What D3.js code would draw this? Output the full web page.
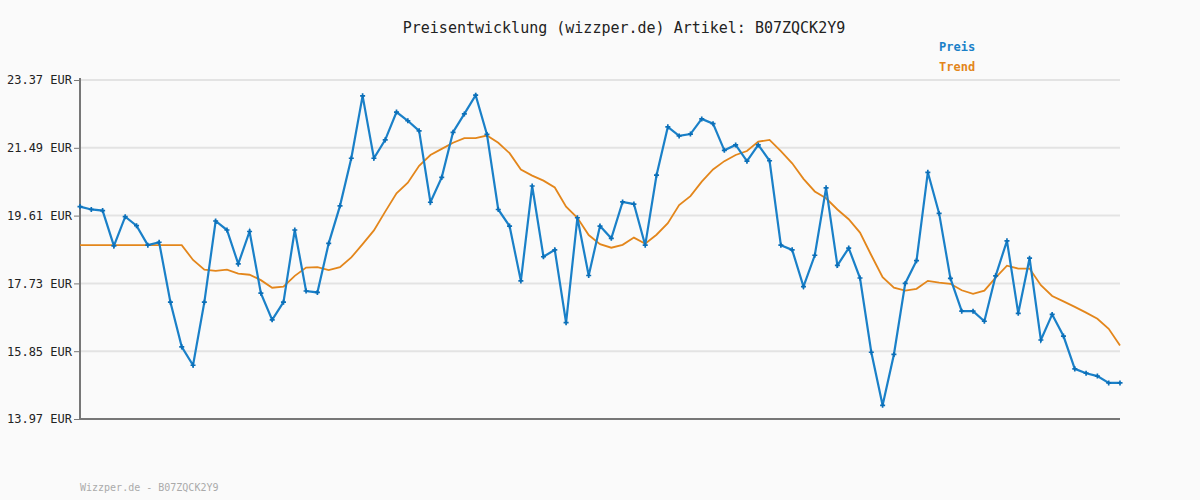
<!DOCTYPE html>
<html>
<head>
<meta charset="utf-8">
<script src="https://cdn.jsdelivr.net/npm/d3@7"></script>
<style>
  body { margin: 0; background: #fafafa; }
  svg text { font-family: "DejaVu Sans Mono", monospace; }
</style>
</head>
<body>
<svg id="chart" width="1200" height="500"></svg>
<script>
// Preis und Trend (EUR), 93 Messpunkte
let preis = [19.86, 19.78, 19.75, 18.77, 19.58, 19.33, 18.79, 18.87, 17.21, 15.97,
  15.46, 17.21, 19.46, 19.21, 18.27, 19.17, 17.46, 16.72, 17.21, 19.21,
  17.52, 17.48, 18.84, 19.88, 21.20, 22.93, 21.20, 21.71, 22.48, 22.24,
  21.96, 19.98, 20.67, 21.92, 22.43, 22.95, 21.86, 19.78, 19.32, 17.80,
  20.43, 18.47, 18.66, 16.64, 19.55, 17.95, 19.32, 18.98, 19.99, 19.93,
  18.79, 20.73, 22.07, 21.82, 21.87, 22.29, 22.16, 21.42, 21.57, 21.12,
  21.57, 21.13, 18.79, 18.66, 17.64, 18.51, 20.38, 18.23, 18.71, 17.88,
  15.82, 14.35, 15.76, 17.73, 18.36, 20.81, 19.67, 17.87, 16.96, 16.96,
  16.68, 17.94, 18.91, 16.90, 18.43, 16.16, 16.87, 16.27, 15.36, 15.24,
  15.16, 14.97, 14.97];
let trend = [18.79, 18.79, 18.79, 18.79, 18.79, 18.79, 18.79, 18.79, 18.79, 18.79,
  18.38, 18.11, 18.08, 18.11, 18.00, 17.97, 17.82, 17.61, 17.64, 17.94,
  18.17, 18.18, 18.10, 18.18, 18.45, 18.82, 19.20, 19.72, 20.23, 20.52,
  20.99, 21.29, 21.46, 21.63, 21.76, 21.76, 21.83, 21.63, 21.34, 20.89,
  20.72, 20.58, 20.39, 19.86, 19.55, 19.07, 18.82, 18.72, 18.80, 19.00,
  18.83, 19.08, 19.40, 19.90, 20.15, 20.55, 20.89, 21.12, 21.29, 21.40,
  21.66, 21.71, 21.40, 21.06, 20.63, 20.28, 20.09, 19.78, 19.51, 19.14,
  18.51, 17.90, 17.61, 17.53, 17.58, 17.80, 17.75, 17.72, 17.54, 17.44,
  17.53, 17.89, 18.22, 18.14, 18.14, 17.68, 17.38, 17.23, 17.08, 16.92,
  16.75, 16.47, 16.01];
let yTicks = [13.97, 15.85, 17.73, 19.61, 21.49, 23.37];

let svg = d3.select('#chart');
let x = d3.scaleLinear().domain([0, preis.length - 1]).range([80, 1120]);
let y = d3.scaleLinear().domain([13.97, 23.37]).range([419, 80]);

// Gitterlinien
svg.append('g').selectAll('line').data(yTicks).join('line')
  .attr('x1', 80).attr('x2', 1120)
  .attr('y1', d => y(d)).attr('y2', d => y(d))
  .attr('stroke', '#e3e3e3').attr('stroke-width', 2);

// y-Achse
let yAxis = d3.axisLeft(y).tickValues(yTicks).tickSize(6)
  .tickFormat(d => d.toFixed(2) + ' EUR');
let ga = svg.append('g').attr('transform', 'translate(80,0)').call(yAxis);
ga.select('.domain').remove();
ga.selectAll('line').attr('stroke', '#777').attr('x1', -6).attr('x2', 0);
ga.selectAll('text').attr('font-size', 12).attr('fill', '#222')
  .attr('font-family', '"DejaVu Sans Mono", monospace').attr('x', -8);

svg.append('line').attr('x1', 80).attr('x2', 80).attr('y1', 78).attr('y2', 420)
  .attr('stroke', '#777').attr('stroke-width', 2);
svg.append('line').attr('x1', 79).attr('x2', 1120).attr('y1', 419).attr('y2', 419)
  .attr('stroke', '#777').attr('stroke-width', 2);

let line = d3.line().x((d, i) => x(i)).y(d => y(d));

svg.append('path').datum(trend).attr('d', line)
  .attr('fill', 'none').attr('stroke', '#e3861b').attr('stroke-width', 1.8);

svg.append('path').datum(preis).attr('d', line)
  .attr('fill', 'none').attr('stroke', '#1a80c8').attr('stroke-width', 2.2);

// Marker
svg.append('g').selectAll('path').data(preis).join('path')
  .attr('d', d3.symbol(d3.symbolCross, 14))
  .attr('transform', (d, i) => `translate(${x(i)},${y(d)})`)
  .attr('fill', '#0b6fb8');

// Titel und Legende
svg.append('text').attr('x', 624).attr('y', 33).attr('text-anchor', 'middle')
  .attr('font-size', 15).attr('fill', '#222')
  .text('Preisentwicklung (wizzper.de) Artikel: B07ZQCK2Y9');
svg.append('text').attr('x', 939).attr('y', 51).attr('font-size', 12)
  .attr('font-weight', 'bold').attr('fill', '#1a80c8').text('Preis');
svg.append('text').attr('x', 939).attr('y', 71).attr('font-size', 12)
  .attr('font-weight', 'bold').attr('fill', '#e3861b').text('Trend');

svg.append('text').attr('x', 80).attr('y', 491).attr('font-size', 10)
  .attr('fill', '#aaa').text('Wizzper.de - B07ZQCK2Y9');
</script>
</body>
</html>
